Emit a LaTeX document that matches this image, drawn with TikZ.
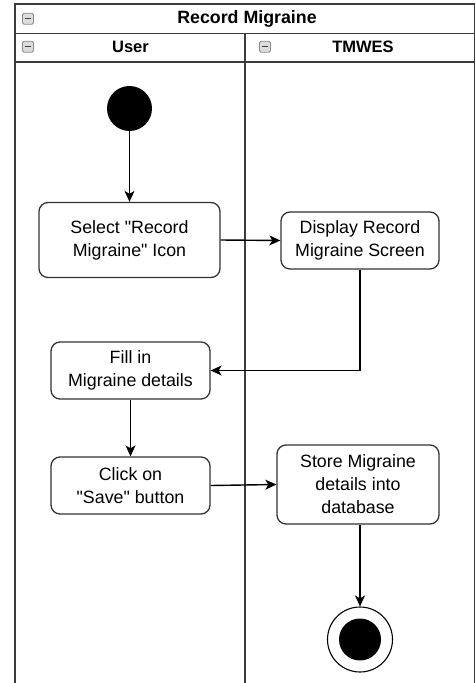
\documentclass[tikz,border=0pt]{standalone}
\usepackage{fontspec}
\setmainfont{Liberation Sans}[Ligatures=TeXOff]
\usetikzlibrary{arrows.meta}
\definecolor{poolline}{HTML}{3C3C3C}
\definecolor{boxline}{HTML}{333333}
\definecolor{iconfill}{HTML}{DCDCDC}
\definecolor{iconline}{HTML}{8A8A8A}
\tikzset{
  pool/.style={draw=poolline, line width=1.6pt},
  actbox/.style={draw=boxline, line width=1.3pt, rounded corners=9pt, fill=white,
    align=center, inner sep=0pt, font=\fontsize{17.8}{23}\selectfont},
  conn/.style={draw=black, line width=1.4pt, -{Stealth[length=11pt,width=10pt,inset=3pt]}},
  hdr/.style={font=\bfseries\fontsize{16.5}{20}\selectfont, inner sep=0pt},
  minusicon/.style={draw=iconline, fill=iconfill, line width=0.8pt, rounded corners=1.5pt,
    minimum width=11pt, minimum height=11pt, inner sep=0pt},
}
\begin{document}
\begin{tikzpicture}[x=1pt, y=-1pt]
\clip (0,0) rectangle (476,683);
\fill[white] (0,0) rectangle (476,683);
% pool frame
\draw[pool] (14.7,700) -- (14.7,4) -- (474.5,4) -- (474.5,700);
\draw[pool] (14.7,33.3) -- (474.5,33.3);
\draw[pool] (14.7,61.7) -- (474.5,61.7);
\draw[pool] (245,33.3) -- (245,700);
% icons
\node[minusicon] (i1) at (28,18.7) {};
\draw[line width=1.3pt, black!75] ([xshift=-3pt]i1.center) -- ([xshift=3pt]i1.center);
\node[minusicon] (i2) at (28,46.7) {};
\draw[line width=1.3pt, black!75] ([xshift=-3pt]i2.center) -- ([xshift=3pt]i2.center);
\node[minusicon] (i3) at (265,46.7) {};
\draw[line width=1.3pt, black!75] ([xshift=-3pt]i3.center) -- ([xshift=3pt]i3.center);
% headers
\node[hdr, font=\bfseries\fontsize{17.8}{20}\selectfont] (title) at (247,19) {Record Migraine};
\node[hdr] (user) at (130.5,47) {User};
\node[hdr] (tmwes) at (363,47) {TMWES};
% start node
\node[circle, fill=black, minimum size=45pt, inner sep=0pt] (start) at (129.5,108.5) {};
% activity boxes
\node[actbox, minimum width=181pt, minimum height=75pt] (select) at (129.5,240) {Select "Record\\Migraine" Icon};
\node[actbox, minimum width=158pt, minimum height=57pt] (display) at (360,240.5) {Display Record\\Migraine Screen};
\node[actbox, minimum width=159pt, minimum height=57pt] (fill) at (130.5,370.5) {Fill in\\Migraine details};
\node[actbox, minimum width=159pt, minimum height=57pt] (click) at (130.5,485.5) {Click on\\"Save" button};
\node[actbox, minimum width=162pt, minimum height=79pt] (store) at (358,484.5) {Store Migraine\\details into\\database};
% final node
\node[circle, draw=black, line width=1.1pt, fill=white, minimum size=65pt, inner sep=0pt] (final) at (360,639.5) {};
\node[circle, fill=black, minimum size=42pt, inner sep=0pt] (finalin) at (final.center) {};
% connectors
\draw[conn] (start.south) -- (select.north);
\draw[conn] (select.east) -- (display.west);
\draw[conn] (display.south) |- (fill.east);
\draw[conn] (fill.south) -- (click.north);
\draw[conn] (click.east) -- (store.west);
\draw[conn] (store.south -| final.north) -- (final.north);
\end{tikzpicture}
\end{document}
